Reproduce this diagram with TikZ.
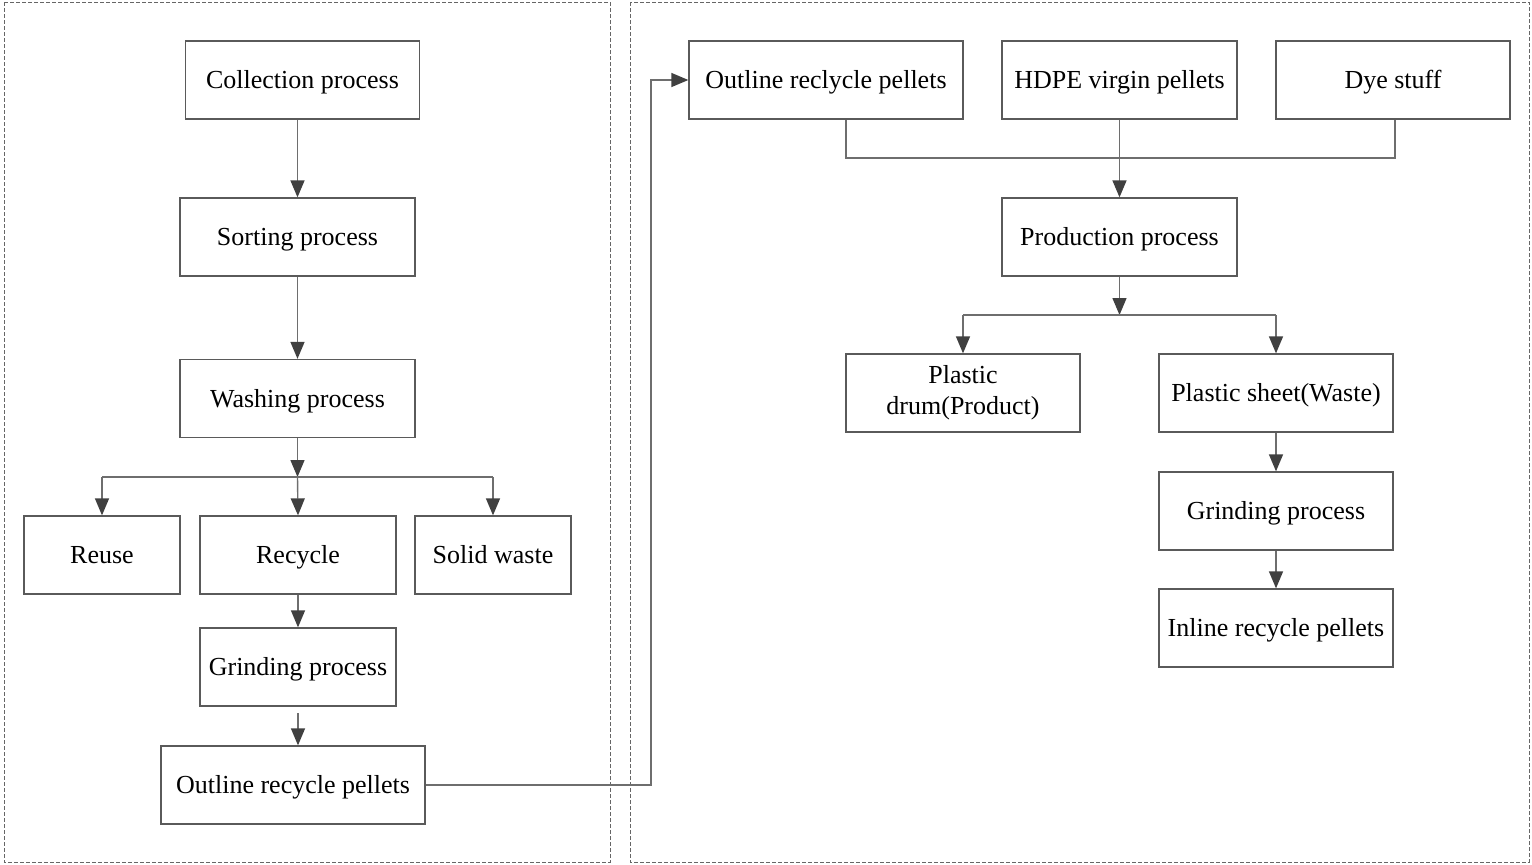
\documentclass[tikz,border=0pt]{standalone}
\usepackage{fontspec}
\setmainfont{Liberation Serif}
\usetikzlibrary{arrows.meta}
\definecolor{boxline}{HTML}{5A5A5A}
\definecolor{linkline}{HTML}{6E6E6E}
\definecolor{headfill}{HTML}{404040}
\definecolor{frameline}{HTML}{666666}
\begin{document}
\begin{tikzpicture}[x=1pt,y=-1pt,
  procbox/.style={draw=boxline,line width=1.3pt,inner sep=0pt,align=center,
    minimum width=234pt,minimum height=78pt,font=\fontsize{26}{31}\selectfont,
    text height=17pt,text depth=0pt},
  twoline/.style={text height=,text depth=},
  link/.style={draw=linkline,line width=1.4pt},
  arr/.style={link,-{Triangle[width=14pt,length=17pt,color=headfill]}},
  frame/.style={draw=frameline,line width=0.9pt,dash pattern=on 4pt off 2pt}]
\useasboundingbox (0,0) rectangle (1532,865);

% dashed frames of the two stages
\draw[frame] (4,2) rectangle (610,862);
\draw[frame] (630,2) rectangle (1529,862);

% collection and treatment stage
\node[procbox] (coll) at (302.5,80) {Collection process};
\node[procbox,minimum width=235pt] (sort) at (297.5,237) {Sorting process};
\node[procbox,minimum width=235pt] (wash) at (297.5,398.5) {Washing process};
\node[procbox,minimum width=156pt] (reuse) at (102,555) {Reuse};
\node[procbox,minimum width=196pt] (recyc) at (298,555) {Recycle};
\node[procbox,minimum width=156pt] (solid) at (493,555) {Solid waste};
\node[procbox,minimum width=196pt] (grindL) at (298,667) {Grinding process};
\node[procbox,minimum width=264pt] (outL) at (293,785) {Outline recycle pellets};

% production stage
\node[procbox,minimum width=274pt] (outR) at (826,80) {Outline reclycle pellets};
\node[procbox,minimum width=235pt] (hdpe) at (1119.5,80) {HDPE virgin pellets};
\node[procbox] (dye) at (1393,80) {Dye stuff};
\node[procbox,minimum width=235pt] (prod) at (1119.5,237) {Production process};
\node[procbox,twoline] (drum) at (963,393)
  {\raisebox{-3pt}{\begin{tabular}{@{}c@{}}Plastic\\drum(Product)\end{tabular}}};
\node[procbox] (sheet) at (1276,393) {Plastic sheet(Waste)};
\node[procbox] (grindR) at (1276,511) {Grinding process};
\node[procbox] (inline) at (1276,628) {Inline recycle pellets};

% junction points
\coordinate (wj) at (297.5,477);
\coordinate (wjL) at (102,477);
\coordinate (wjR) at (493,477);
\coordinate (gs) at (298,713);
\coordinate (bend) at (651,785);
\coordinate (mj1) at (846,158);
\coordinate (mj2) at (1395,158);
\coordinate (pj) at (1119.5,315);
\coordinate (pjL) at (963,315);
\coordinate (pjR) at (1276,315);

% left connectors
\draw[arr] (sort.north |- coll.south) -- (sort.north);
\draw[arr] (sort.south) -- (wash.north);
\draw[arr] (wash.south) -- (wj);
\draw[link] (wjL) -- (wjR);
\draw[arr] (wjL) -- (reuse.north);
\draw[arr] (wj) -- (recyc.north);
\draw[arr] (wjR) -- (solid.north);
\draw[arr] (recyc.south) -- (grindL.north);
\draw[arr] (gs) -- (outL.north -| gs);

% link between the stages
\draw[arr] (outL.east) -- (bend) |- (outR.west);

% right connectors
\draw[link] (outR.south -| mj1) -- (mj1) -- (mj2) -- (dye.south -| mj2);
\draw[arr] (hdpe.south) -- (prod.north);
\draw[arr] (prod.south) -- (pj);
\draw[link] (pjL) -- (pjR);
\draw[arr] (pjL) -- (drum.north);
\draw[arr] (pjR) -- (sheet.north);
\draw[arr] (sheet.south) -- (grindR.north);
\draw[arr] (grindR.south) -- (inline.north);
\end{tikzpicture}
\end{document}
